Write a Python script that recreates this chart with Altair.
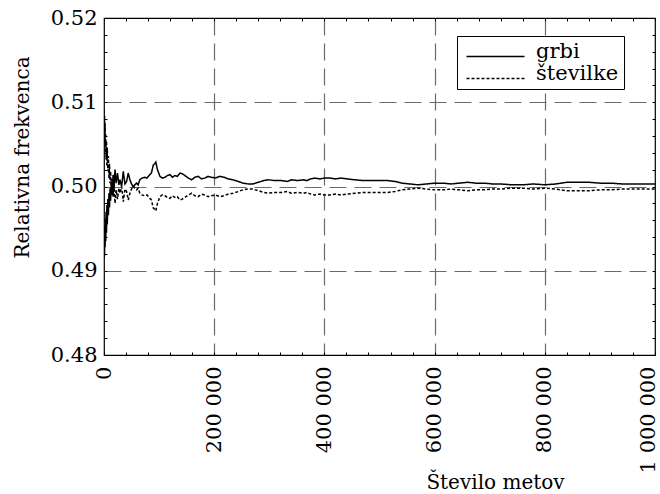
import altair as alt
import pandas as pd

FONT = "DejaVu Serif"

# Number of tosses at which the running relative frequency was sampled
metov = [
    200, 600, 1000, 1500, 2000, 2600, 3200, 3800, 4500, 5200,
    6000, 7000, 8000, 9000, 10000, 11000, 12000, 13500, 15000, 16500,
    18000, 20000, 22000, 24500, 27000, 29000, 32000, 35000, 38000, 41000,
    44000, 47000, 50000, 53000, 56000, 59000, 62000, 65000, 69000, 74000,
    78000, 83000, 86000, 89500, 92000, 94000, 97000, 101600, 106000, 110700,
    115000, 119800, 124000, 128900, 133000, 137900, 142000, 147000, 153000, 159000,
    165000, 171000, 177000, 183000, 189000, 195000, 202000, 210000, 218000, 225600,
    234000, 243700, 252000, 262000, 270000, 280000, 290000, 298000, 310000, 322000,
    333000, 340000, 352000, 362000, 368000, 375000, 382000, 392000, 400000, 410000,
    420000, 430000, 442000, 455000, 470000, 485000, 500000, 515000, 528000, 540000,
    555000, 570000, 585000, 600000, 615000, 630000, 645000, 660000, 675000, 690000,
    705000, 720000, 740000, 760000, 780000, 800000, 820000, 840000, 860000, 880000,
    900000, 920000, 940000, 960000, 980000, 1000000,
]

# Relative frequency of heads
grbi = [
    0.4915, 0.4940, 0.4918, 0.4952, 0.4928, 0.4962, 0.4935, 0.4970, 0.4945, 0.4978,
    0.4955, 0.4985, 0.4966, 0.4992, 0.4975, 0.4998, 0.4983, 0.5006, 0.4990, 0.5014,
    0.4997, 0.5020, 0.5004, 0.5016, 0.5002, 0.5008, 0.5000, 0.5018, 0.5003, 0.5006,
    0.5016, 0.5008, 0.5003, 0.49995, 0.5002, 0.5004, 0.5002, 0.5008, 0.5010, 0.5011,
    0.5010, 0.5014, 0.5016, 0.50255, 0.5027, 0.5029, 0.5020, 0.5012, 0.5010, 0.5011,
    0.5013, 0.5014, 0.5011, 0.5013, 0.5012, 0.5016, 0.5015, 0.5013, 0.5010, 0.5008,
    0.5011, 0.5012, 0.5009, 0.5010, 0.5012, 0.5011, 0.5010, 0.5012, 0.5011, 0.5009,
    0.5008, 0.5006, 0.5004, 0.5003, 0.5003, 0.5005, 0.5007, 0.5008, 0.5007, 0.5007,
    0.5006, 0.5008, 0.5007, 0.5008, 0.5007, 0.5009, 0.5010, 0.5009, 0.5010, 0.5010,
    0.5009, 0.5010, 0.5009, 0.5008, 0.5007, 0.5007, 0.5007, 0.5007, 0.5006, 0.5004,
    0.5003, 0.5002, 0.5003, 0.5004, 0.5004, 0.5003, 0.5004, 0.5005, 0.5004, 0.5004,
    0.5003, 0.5003, 0.5002, 0.5002, 0.5003, 0.5002, 0.5003, 0.5005, 0.5005, 0.5005,
    0.5004, 0.5004, 0.5003, 0.5003, 0.5003, 0.5003,
]

# Relative frequency of tails
stevilke = [
    0.5090, 0.5066, 0.5084, 0.5050, 0.5075, 0.5040, 0.5063, 0.5032, 0.5054, 0.5024,
    0.5046, 0.5018, 0.5036, 0.5010, 0.5027, 0.5004, 0.5018, 0.4996, 0.5010, 0.4988,
    0.5003, 0.4980, 0.4996, 0.4985, 0.4998, 0.4992, 0.5000, 0.4982, 0.4997, 0.4994,
    0.4984, 0.4992, 0.4997, 0.50005, 0.4998, 0.4996, 0.4998, 0.4992, 0.4990, 0.4989,
    0.4990, 0.4986, 0.4984, 0.49745, 0.4973, 0.4971, 0.4980, 0.4988, 0.4990, 0.4989,
    0.4987, 0.4986, 0.4989, 0.4987, 0.4988, 0.4984, 0.4985, 0.4987, 0.4990, 0.4992,
    0.4989, 0.4988, 0.4991, 0.4990, 0.4988, 0.4989, 0.4990, 0.4988, 0.4989, 0.4991,
    0.4992, 0.4994, 0.4996, 0.4997, 0.4997, 0.4995, 0.4993, 0.4992, 0.4993, 0.4993,
    0.4994, 0.4992, 0.4993, 0.4992, 0.4993, 0.4991, 0.4990, 0.4991, 0.4990, 0.4990,
    0.4991, 0.4990, 0.4991, 0.4992, 0.4993, 0.4993, 0.4993, 0.4993, 0.4994, 0.4996,
    0.4997, 0.4998, 0.4997, 0.4996, 0.4996, 0.4997, 0.4996, 0.4995, 0.4996, 0.4996,
    0.4997, 0.4997, 0.4998, 0.4998, 0.4997, 0.4998, 0.4997, 0.4995, 0.4995, 0.4995,
    0.4996, 0.4996, 0.4997, 0.4997, 0.4997, 0.4997,
]

serije = ["grbi", "številke"]

x_major = [0, 200000, 400000, 600000, 800000, 1000000]
x_grid = [200000, 400000, 600000, 800000]
x_minor = [i * 40000 for i in range(26)]
y_major = [0.48, 0.49, 0.50, 0.51, 0.52]
y_grid = [0.49, 0.50, 0.51]
y_minor = [round(0.48 + i * 0.002, 3) for i in range(21)]

df = pd.DataFrame({
    "metov": metov + metov,
    "frekvenca": grbi + stevilke,
    "serija": [serije[0]] * len(metov) + [serije[1]] * len(metov),
})

x_scale = alt.Scale(domain=[0, 1000000], nice=False, zero=False)
y_scale = alt.Scale(domain=[0.48, 0.52], nice=False, zero=False)

# Main layer: the two curves, labelled axes and the legend
lines = alt.Chart(df).mark_line(color="black", strokeWidth=1.5, clip=True).encode(
    x=alt.X("metov:Q", scale=x_scale, axis=alt.Axis(
        orient="bottom", values=x_major,
        labelExpr="replace(replace(format(datum.value, ','), ',', ' '), ',', ' ')",
        labelAngle=270, labelFont=FONT, labelFontSize=21, labelColor="black",
        labelPadding=11, labelFlush=False, labelOverlap=False,
        labelOffset={"condition": {"test": "datum.value >= 1000000", "value": -7},
                     "value": 0},
        ticks=False, tickSize=0, domain=False, grid=False,
        title="Število metov", titleFont=FONT, titleFontSize=20,
        titleFontWeight="normal", titleColor="black",
        titleX=391, titleY=133, titleAlign="center", titleBaseline="alphabetic",
    )),
    y=alt.Y("frekvenca:Q", scale=y_scale, axis=alt.Axis(
        orient="left", values=y_major, format=".2f",
        labelFont=FONT, labelFontSize=21, labelColor="black",
        labelPadding=7, labelFlush=False, labelOverlap=False,
        ticks=False, tickSize=0, domain=False, grid=False,
        title="Relativna frekvenca", titleFont=FONT, titleFontSize=20,
        titleFontWeight="normal", titleColor="black",
        titleAngle=270, titleX=-82, titleY=139,
        titleAlign="center", titleBaseline="middle",
    )),
    strokeDash=alt.StrokeDash("serija:N", scale=alt.Scale(
        domain=serije, range=[[1, 0], [3, 2]]), legend=alt.Legend(
        title=None, orient="none", legendX=353, legendY=18,
        direction="vertical", strokeColor="black", fillColor="white",
        padding=5, cornerRadius=0,
        labelFont=FONT, labelFontSize=21, labelColor="black",
        symbolType="M-1,0.83H8.67", symbolSize=144, symbolStrokeWidth=1.3,
        symbolStrokeColor="black", labelOffset=53, rowPadding=0,
    )),
)

# Dashed grid at the interior major ticks
grid = alt.Chart(df).mark_line(strokeOpacity=0).encode(
    x=alt.X("metov:Q", scale=x_scale, axis=alt.Axis(
        orient="bottom", values=x_grid, labels=False, ticks=False,
        domain=False, grid=True, gridColor="#6a6a6a", gridDash=[17, 8],
        gridWidth=1.2, title=None)),
    y=alt.Y("frekvenca:Q", scale=y_scale, axis=alt.Axis(
        orient="left", values=y_grid, labels=False, ticks=False,
        domain=False, grid=True, gridColor="#6a6a6a", gridDash=[17, 8],
        gridWidth=1.2, title=None)),
)


def inner_ticks(x_orient, y_orient):
    # Short ticks pointing into the plot box
    return alt.Chart(df).mark_line(strokeOpacity=0).encode(
        x=alt.X("metov:Q", scale=x_scale, axis=alt.Axis(
            orient=x_orient, offset=-3, values=x_minor, labels=False,
            ticks=True, tickSize=3, tickColor="black", tickWidth=1,
            domain=False, grid=False, title=None)),
        y=alt.Y("frekvenca:Q", scale=y_scale, axis=alt.Axis(
            orient=y_orient, offset=-3, values=y_minor, labels=False,
            ticks=True, tickSize=3, tickColor="black", tickWidth=1,
            domain=False, grid=False, title=None)),
    )


chart = alt.layer(
    grid, inner_ticks("bottom", "left"), inner_ticks("top", "right"), lines
).resolve_axis(
    x="independent", y="independent"
).properties(
    width=551, height=337,
    autosize=alt.AutoSizeParams(type="none"),
    padding={"left": 104, "top": 18, "right": 5, "bottom": 139},
    background="white",
).configure_view(
    stroke="black", strokeWidth=1.2
)

chart.save("out.html", embed_options={"renderer": "svg", "actions": False})
